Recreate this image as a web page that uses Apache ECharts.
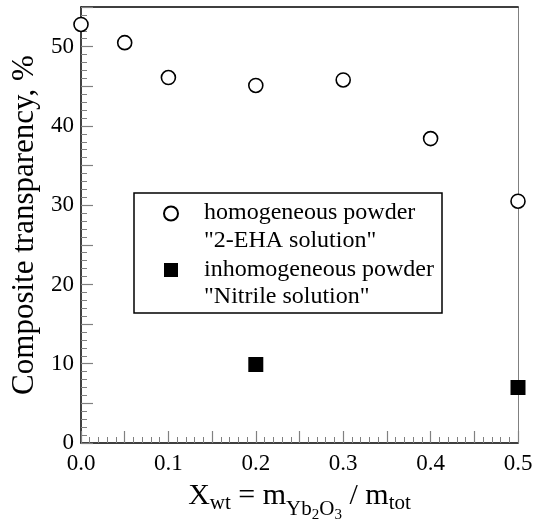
<!DOCTYPE html>
<html>
<head>
<meta charset="utf-8">
<script src="https://cdn.jsdelivr.net/npm/echarts@6/dist/echarts.min.js"></script>
<style>
  html, body { margin: 0; padding: 0; background: #fff; }
  #chart { width: 535px; height: 522px; }
</style>
</head>
<body>
<div id="chart"></div>
<script>
// composite transparency vs Yb2O3 weight fraction
const xHomogeneous = [0, 0.05, 0.1, 0.2, 0.3, 0.4, 0.5];
const yHomogeneous = [52.8, 50.5, 46.1, 45.1, 45.8, 38.4, 30.5];
const xInhomogeneous = [0.2, 0.5];
const yInhomogeneous = [9.9, 7.0];

const nameHomogeneous = 'homogeneous powder';
const noteHomogeneous = '"2-EHA solution"';
const nameInhomogeneous = 'inhomogeneous powder';
const noteInhomogeneous = '"Nitrile solution"';

const notes = {};
notes[nameHomogeneous] = noteHomogeneous;
notes[nameInhomogeneous] = noteInhomogeneous;

const serif = '"Liberation Serif", "DejaVu Serif", serif';
const tickGray = '#808080';

const pairs = (xs, ys) => xs.map((x, i) => [x, ys[i]]);

const chart = echarts.init(document.getElementById('chart'));

chart.setOption({
  animation: false,
  backgroundColor: '#fff',
  grid: { left: 81, right: 17, top: 7, bottom: 79, outerBoundsMode: 'none' },
  graphic: [
    {
      type: 'rect',
      shape: { x: 134, y: 193, width: 308, height: 120 },
      style: { fill: 'transparent', stroke: '#000', lineWidth: 1.5 },
      silent: true,
    },
  ],
  legend: {
    orient: 'vertical',
    left: 163,
    top: 201,
    padding: 0,
    itemGap: 5,
    itemWidth: 14,
    itemHeight: 14,
    selectedMode: false,
    data: [nameHomogeneous, nameInhomogeneous],
    // first line is padded above so the icon sits level with it
    formatter: (name) => '{a|' + name + '}\n{n|' + notes[name] + '}',
    textStyle: {
      padding: [0, 0, 0, 21],
      rich: {
        a: { fontFamily: serif, fontSize: 24, color: '#000', padding: [30, 0, 0, 0] },
        n: { fontFamily: serif, fontSize: 24, lineHeight: 31, color: '#000' },
      },
    },
  },
  xAxis: [
    {
      type: 'value',
      min: 0,
      max: 0.5,
      interval: 0.05,
      name: '{b|X}{s|wt}{b| = m}{s2|Yb}{ss|2}{s2|O}{ss|3}{b| / m}{s|tot}',
      nameLocation: 'middle',
      nameGap: 54,
      nameTextStyle: {
        rich: {
          b: { fontFamily: serif, fontSize: 30, lineHeight: 30, color: '#000', verticalAlign: 'bottom', padding: [0, 0, 16, 0] },
          s: { fontFamily: serif, fontSize: 21, lineHeight: 21, color: '#000', verticalAlign: 'bottom', padding: [0, 0, 13, 0] },
          s2: { fontFamily: serif, fontSize: 21, lineHeight: 21, color: '#000', verticalAlign: 'bottom', padding: [0, 0, 7, 0] },
          ss: { fontFamily: serif, fontSize: 15, lineHeight: 15, color: '#000', verticalAlign: 'bottom', padding: [0, 0, 4, 0] },
        },
      },
      axisLine: { show: true, onZero: false, lineStyle: { color: '#000', width: 1.5 } },
      axisTick: { show: true, inside: true, length: 12, lineStyle: { color: tickGray, width: 1.2 } },
      minorTick: { show: true, splitNumber: 5, length: 6, lineStyle: { color: tickGray, width: 1 } },
      axisLabel: {
        fontFamily: serif,
        fontSize: 23,
        color: '#000',
        margin: 9,
        formatter: (v) => {
          const t = Math.round(v * 100);
          return t % 10 === 0 ? (t / 100).toFixed(1) : '';
        },
      },
      splitLine: { show: false },
    },
    {
      type: 'value',
      position: 'top',
      min: 0,
      max: 0.5,
      axisLine: { show: true, onZero: false, lineStyle: { color: '#000', width: 1.5 } },
      axisTick: { show: false },
      axisLabel: { show: false },
      splitLine: { show: false },
    },
  ],
  yAxis: [
    {
      type: 'value',
      min: 0,
      max: 55,
      interval: 5,
      name: 'Composite transparency, %',
      nameLocation: 'middle',
      nameGap: 36,
      nameTextStyle: { fontFamily: serif, fontSize: 31, color: '#000' },
      axisLine: { show: true, onZero: false, lineStyle: { color: '#000', width: 1.5 } },
      axisTick: { show: true, inside: true, length: 12, lineStyle: { color: tickGray, width: 1.2 } },
      minorTick: { show: true, splitNumber: 5, length: 6, lineStyle: { color: tickGray, width: 1 } },
      axisLabel: {
        fontFamily: serif,
        fontSize: 23,
        color: '#000',
        margin: 7,
        formatter: (v) => (v % 10 === 0 ? String(v) : ''),
      },
      splitLine: { show: false },
    },
    {
      type: 'value',
      position: 'right',
      min: 0,
      max: 55,
      axisLine: { show: true, onZero: false, lineStyle: { color: tickGray, width: 1 } },
      axisTick: { show: false },
      axisLabel: { show: false },
      splitLine: { show: false },
    },
  ],
  series: [
    {
      name: nameHomogeneous,
      type: 'scatter',
      clip: false,
      symbol: 'circle',
      symbolSize: 14,
      itemStyle: { color: '#fff', borderColor: '#000', borderWidth: 1.6, opacity: 1 },
      data: pairs(xHomogeneous, yHomogeneous),
      z: 5,
    },
    {
      name: nameInhomogeneous,
      type: 'scatter',
      clip: false,
      symbol: 'rect',
      symbolSize: 15,
      itemStyle: { color: '#000', opacity: 1 },
      data: pairs(xInhomogeneous, yInhomogeneous),
      z: 5,
    },
  ],
});
</script>
</body>
</html>
